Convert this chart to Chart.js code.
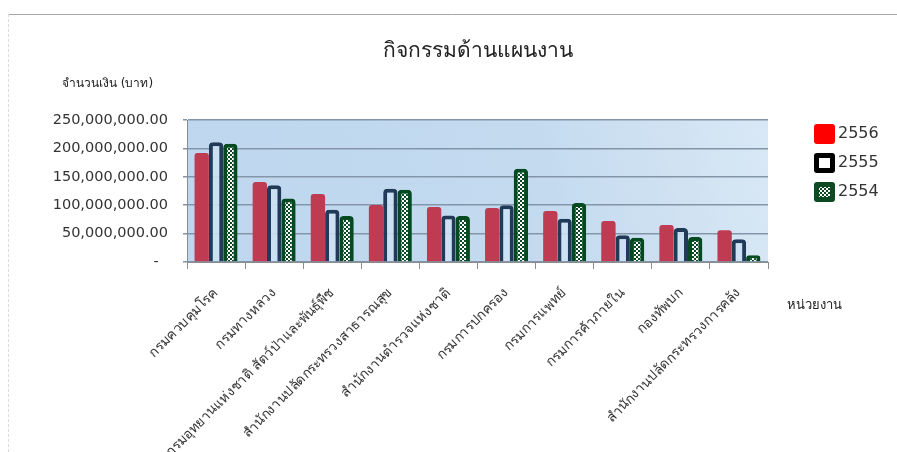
<!DOCTYPE html>
<html>
<head>
<meta charset="utf-8">
<script src="https://cdn.jsdelivr.net/npm/chart.js@4"></script>
<style>
  html, body { margin: 0; padding: 0; background: #fff; }
  #wrap { position: relative; width: 897px; height: 452px; }
</style>
</head>
<body>
<div id="wrap"><canvas id="budgetChart" width="897" height="452"></canvas></div>
<script>
// ข้อมูลกราฟ
const categories = [
    'กรมควบคุมโรค',
    'กรมทางหลวง',
    'กรมอุทยานแห่งชาติ สัตว์ป่าและพันธุ์พืช',
    'สำนักงานปลัดกระทรวงสาธารณสุข',
    'สำนักงานตำรวจแห่งชาติ',
    'กรมการปกครอง',
    'กรมการแพทย์',
    'กรมการค้าภายใน',
    'กองทัพบก',
    'สำนักงานปลัดกระทรวงการคลัง'
];
const years = ['2556', '2555', '2554'];
const values2556 = [192e6, 141e6, 119.5e6, 100.5e6, 97e6, 95e6, 90e6, 72e6, 65e6, 56e6];
const values2555 = [211e6, 135e6, 92e6, 129e6, 82e6, 100e6, 76e6, 47e6, 60e6, 40e6];
const values2554 = [208e6, 112e6, 81e6, 127e6, 81e6, 164e6, 104e6, 42.5e6, 44e6, 12e6];
const yTickValues = [0, 50e6, 100e6, 150e6, 200e6, 250e6];

const chartTitle = 'กิจกรรมด้านแผนงาน';
const yTitle = 'จำนวนเงิน (บาท)';
const xTitle = 'หน่วยงาน';

const FONT = "Tahoma, 'DejaVu Sans', 'Noto Sans', sans-serif";

// ลายตารางสำหรับแท่ง 2554
function makeCheckerPattern() {
    const c = document.createElement('canvas');
    c.width = 4; c.height = 4;
    const g = c.getContext('2d');
    g.fillStyle = '#ffffff';
    g.fillRect(0, 0, 4, 4);
    g.fillStyle = '#0b4a22';
    g.fillRect(0, 0, 2, 2);
    g.fillRect(2, 2, 2, 2);
    return g.createPattern(c, 'repeat');
}

const ctx = document.getElementById('budgetChart').getContext('2d');
const checker = makeCheckerPattern();

// พื้นหลังพื้นที่กราฟ + กรอบ
const backgroundPlugin = {
    id: 'plotBg',
    beforeDraw(chart) {
        const c = chart.ctx, a = chart.chartArea;
        c.save();
        c.fillStyle = '#ffffff';
        c.fillRect(0, 0, chart.width, chart.height);
        c.strokeStyle = '#a6a6a6';
        c.lineWidth = 1;
        c.beginPath();
        c.moveTo(8, 14.5);
        c.lineTo(chart.width, 14.5);
        c.stroke();
        c.strokeStyle = '#dcdcdc';
        c.setLineDash([3, 2]);
        c.beginPath();
        c.moveTo(8.5, 14);
        c.lineTo(8.5, chart.height);
        c.stroke();
        c.setLineDash([]);
        const grad = c.createLinearGradient(a.left, a.bottom, a.right, a.top);
        grad.addColorStop(0, '#bed7ee');
        grad.addColorStop(0.6, '#c3daef');
        grad.addColorStop(1, '#d9e8f5');
        c.fillStyle = grad;
        c.fillRect(a.left, a.top, a.right - a.left, a.bottom - a.top);
        c.restore();
    }
};

// ชื่อกราฟ ชื่อแกน และคำอธิบาย
const labelsPlugin = {
    id: 'labels',
    afterDraw(chart) {
        const c = chart.ctx;
        c.save();
        c.fillStyle = '#222';
        c.textBaseline = 'middle';
        c.textAlign = 'center';
        c.font = '21px ' + FONT;
        c.fillText(chartTitle, 478, 52);
        c.textAlign = 'left';
        c.font = '12px ' + FONT;
        c.fillText(yTitle, 62, 84);
        c.font = '13px ' + FONT;
        c.fillText(xTitle, 787, 306);

        // คำอธิบาย
        const ds = chart.data.datasets;
        c.font = '16px ' + FONT;
        ds.forEach((d, i) => {
            const x = 814, y = 124 + i * 29;
            c.beginPath();
            c.roundRect(x, y, 21, 20, 3);
            if (i === 0) {
                c.fillStyle = '#ff0000';
                c.fill();
            } else if (i === 1) {
                c.fillStyle = '#000';
                c.fill();
                c.fillStyle = '#fff';
                c.fillRect(x + 5, y + 5, 11, 10);
            } else {
                c.fillStyle = '#0b4a22';
                c.fill();
                c.fillStyle = checker;
                c.fillRect(x + 5, y + 5, 11, 10);
            }
            c.fillStyle = '#333';
            c.fillText(d.label, 838, y + 10);
        });
        c.restore();
    }
};

new Chart(ctx, {
    type: 'bar',
    data: {
        labels: categories,
        datasets: [
            {
                label: years[0],
                data: values2556,
                backgroundColor: '#be3b52',
                borderWidth: 0,
                borderRadius: { topLeft: 3, topRight: 3 },
                borderSkipped: 'bottom'
            },
            {
                label: years[1],
                data: values2555,
                backgroundColor: 'rgba(205, 225, 243, 0.9)',
                borderColor: '#213a58',
                borderWidth: { top: 4, left: 4, right: 4, bottom: 0 },
                borderRadius: { topLeft: 4, topRight: 4 },
                borderSkipped: 'bottom'
            },
            {
                label: years[2],
                data: values2554,
                backgroundColor: checker,
                borderColor: '#034a20',
                borderWidth: { top: 4, left: 4, right: 4, bottom: 0 },
                borderRadius: { topLeft: 4, topRight: 4 },
                borderSkipped: 'bottom'
            }
        ]
    },
    options: {
        responsive: false,
        animation: false,
        layout: { padding: { top: 120, right: 129, bottom: 0, left: 0 } },
        plugins: {
            legend: { display: false },
            title: { display: false },
            tooltip: { enabled: false }
        },
        datasets: {
            bar: { categoryPercentage: 0.74, barPercentage: 1.0 }
        },
        scales: {
            x: {
                offset: true,
                grid: {
                    display: true,
                    offset: true,
                    drawOnChartArea: false,
                    drawTicks: true,
                    tickLength: 7,
                    color: '#8c8c8c'
                },
                border: { color: '#8c8c8c', width: 1 },
                ticks: {
                    autoSkip: false,
                    maxRotation: 45,
                    minRotation: 45,
                    padding: 16,
                    color: '#333',
                    font: { family: FONT, size: 13.5 }
                },
                afterFit(scale) { scale.height = 452 - 262; }
            },
            y: {
                min: 0,
                max: 250e6,
                afterBuildTicks(scale) {
                    scale.ticks = yTickValues.map(v => ({ value: v }));
                },
                grid: {
                    color: '#8395a8',
                    lineWidth: 1.5,
                    tickLength: 4
                },
                border: { color: '#8c8c8c', width: 1 },
                ticks: {
                    padding: 15,
                    color: '#333',
                    font: { family: FONT, size: 14.5 },
                    callback(v) {
                        if (v === 0) return '-  ';
                        return v.toLocaleString('en-US', { minimumFractionDigits: 2, maximumFractionDigits: 2 });
                    }
                },
                afterFit(scale) { scale.width = 187; }
            }
        }
    },
    plugins: [backgroundPlugin, labelsPlugin]
});
</script>
</body>
</html>
